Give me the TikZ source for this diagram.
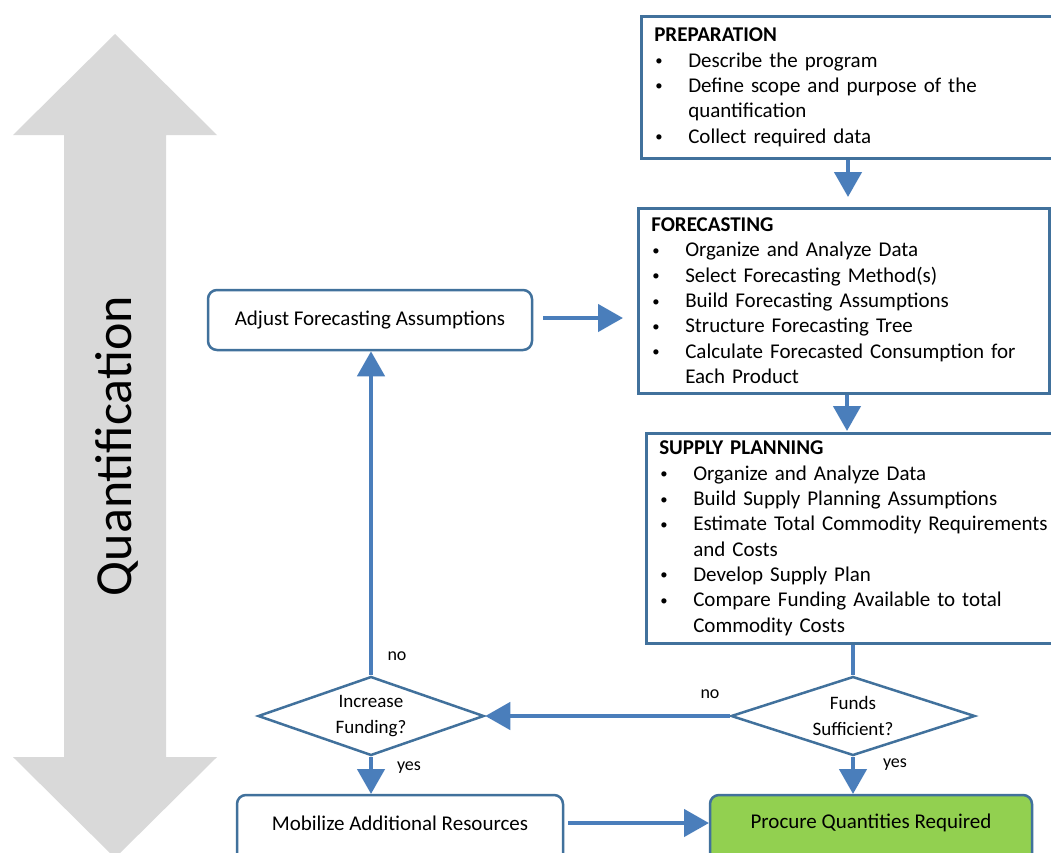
\documentclass[tikz,border=0pt]{standalone}
\usepackage{fontspec}
\setmainfont{Carlito}
\usetikzlibrary{arrows.meta,shapes.geometric}
\definecolor{boxline}{HTML}{41719C}
\definecolor{arrowblue}{HTML}{4A7EBB}
\definecolor{graybg}{HTML}{D9D9D9}
\definecolor{procgreen}{HTML}{92D050}
\newcommand{\bitem}[1]{\mbox{\makebox[34pt][l]{\hspace{1pt}\raisebox{1.5pt}{\scalebox{0.7}{\textbullet}}}#1}}
\newcommand{\bcont}[1]{\mbox{\hspace*{34pt}#1}}
\tikzset{
  bigbox/.style={draw=boxline, line width=2.5pt, rectangle, anchor=north west, align=left,
    inner xsep=13pt, inner ysep=0pt, font=\fontsize{21}{25.3}\selectfont},
  roundbox/.style={draw=boxline, line width=2.5pt, rectangle, rounded corners=9pt,
    font=\fontsize{21}{25}\selectfont},
  decision/.style={draw=boxline, line width=2.5pt, diamond, aspect=3, inner sep=0pt,
    align=center, font=\fontsize{19}{26}\selectfont},
  flow/.style={draw=arrowblue, line width=4.5pt, -{Triangle[width=27pt,length=25pt]}},
  flowline/.style={draw=arrowblue, line width=4.5pt},
  lbl/.style={font=\fontsize{18}{20}\selectfont, inner sep=0pt}
}
\begin{document}
\begin{tikzpicture}[x=1pt,y=-1pt]
\clip (0,0) rectangle (1051,852);
\fill[white] (0,0) rectangle (1051,852);
% big gray double arrow
\fill[graybg] (115,34) -- (217,135) -- (166,135) -- (166,757) -- (217,757) -- (115,858)
  -- (13,757) -- (64,757) -- (64,135) -- (13,135) -- cycle;
\node[rotate=90, font=\fontsize{52}{55}\selectfont, inner sep=0pt] (quant) at (117,446) {Quantification};

% boxes
\node[bigbox, text width=389pt, minimum height=142pt] (prep) at (640,15)
 {\textbf{PREPARATION}\\
  \bitem{Describe the program}\\
  \bitem{Define scope and purpose of the}\\
  \bcont{quantification}\\
  \bitem{Collect required data}};

\node[bigbox, text width=385pt, minimum height=185pt] (fore) at (637,207)
 {\textbf{FORECASTING}\\
  \bitem{Organize and Analyze Data}\\
  \bitem{Select Forecasting Method(s)}\\
  \bitem{Build Forecasting Assumptions}\\
  \bitem{Structure Forecasting Tree}\\
  \bitem{Calculate Forecasted Consumption for}\\
  \bcont{Each Product}};

\node[bigbox, text width=384pt, minimum height=210pt] (supp) at (645,432)
 {\textbf{SUPPLY PLANNING}\\
  \bitem{Organize and Analyze Data}\\
  \bitem{Build Supply Planning Assumptions}\\
  \bitem{Estimate Total Commodity Requirements}\\
  \bcont{and Costs}\\
  \bitem{Develop Supply Plan}\\
  \bitem{Compare Funding Available to total}\\
  \bcont{Commodity Costs}};

\node[roundbox, minimum width=324pt, minimum height=60pt] (adj) at (370,320) {Adjust Forecasting Assumptions};

\node[decision, minimum width=226pt, minimum height=79pt] (inc) at (371,716) {Increase\\Funding?};
\node[decision, minimum width=244pt, minimum height=79pt] (funds) at (853,716) {Funds\\Sufficient?};

\node[roundbox, minimum width=326pt, minimum height=70pt] (mob) at (400,830) {};
\node[font=\fontsize{21}{25}\selectfont, inner sep=0pt] (mobt) at (400,823) {Mobilize Additional Resources};
\node[roundbox, fill=procgreen, minimum width=322pt, minimum height=70pt] (proc) at (871,830) {};
\node[font=\fontsize{21}{25}\selectfont, inner sep=0pt] (proct) at (871,823) {Procure Quantities Required};

% connectors
\coordinate (a1s) at (prep.south -| 848,0);
\coordinate (a1e) at (848,197);
\draw[flow] (a1s) -- (a1e);
\coordinate (a2s) at (fore.south -| 847,0);
\coordinate (a2e) at (847,431);
\draw[flow] (a2s) -- (a2e);
\draw[flowline] (supp.south -| funds.north) -- (funds.north);
\draw[flow] (funds.west) -- (inc.east);
\coordinate (adjin) at (adj.south -| inc.north);
\draw[flow] (inc.north) -- (adjin);
\coordinate (adjr) at (543,318);
\coordinate (forel) at (623,318);
\draw[flow] (adjr) -- (forel);
\coordinate (mobtop) at (371,794);
\draw[flow] (inc.south) -- (mobtop);
\coordinate (proctop) at (853,794);
\draw[flow] (funds.south) -- (proctop);
\coordinate (mobr) at (568,823);
\coordinate (procl) at (709,823);
\draw[flow] (mobr) -- (procl);

% labels
\node[lbl] (no1) at (397,656) {no};
\node[lbl] (no2) at (710,694) {no};
\node[lbl] (yes1) at (409,768) {yes};
\node[lbl] (yes2) at (895,765) {yes};
\end{tikzpicture}
\end{document}
